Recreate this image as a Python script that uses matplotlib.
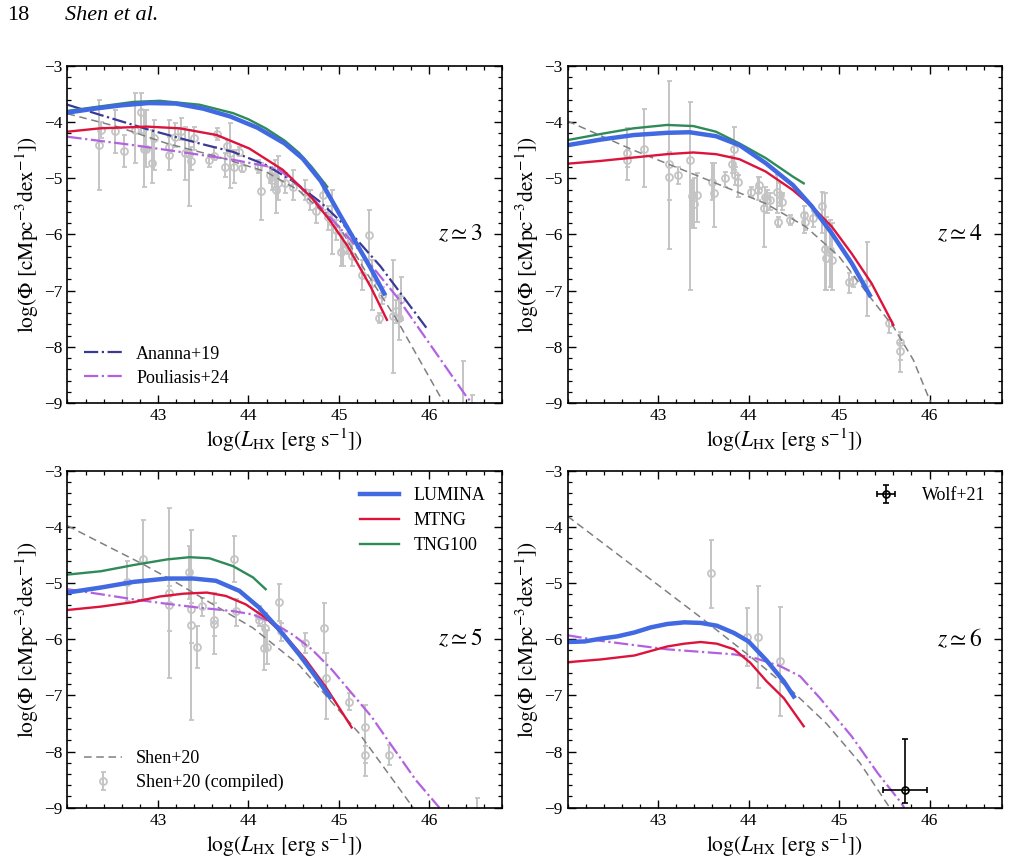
import numpy as np
import matplotlib
matplotlib.use("Agg")
import matplotlib.pyplot as plt
from matplotlib.ticker import MultipleLocator

plt.rcParams['font.family'] = ['Liberation Serif', 'DejaVu Serif']
plt.rcParams['mathtext.fontset'] = 'stix'

c_lum = '#4169e1'
c_mtng = '#dc143c'
c_tng = '#2e8b57'
c_ananna = '#3a3a96'
c_poul = '#b262e0'
c_shen = '#808080'
c_data = '#c4c4c4'

# ---------------- z ~ 3 ----------------
lum3_L = [42.0, 42.3, 42.6, 42.9, 43.2, 43.5, 43.8, 44.1, 44.4, 44.6, 44.8, 45.0, 45.2, 45.35, 45.5]
lum3_phi = [-3.83, -3.76, -3.70, -3.66, -3.67, -3.76, -3.90, -4.10, -4.38, -4.65, -5.05, -5.62, -6.18, -6.60, -7.05]
mtng3_L = [42.0, 42.36, 42.88, 43.24, 43.65, 44.01, 44.38, 44.7, 44.9, 45.1, 45.35, 45.53]
mtng3_phi = [-4.17, -4.11, -4.08, -4.11, -4.23, -4.47, -4.85, -5.35, -5.75, -6.22, -6.93, -7.52]
tng3_L = [42.0, 42.36, 42.73, 43.02, 43.46, 43.83, 44.0, 44.19, 44.4, 44.56, 44.7, 44.87]
tng3_phi = [-3.80, -3.72, -3.64, -3.62, -3.69, -3.84, -3.95, -4.11, -4.33, -4.55, -4.80, -5.15]
ana3_L = [42.0, 42.36, 42.91, 43.46, 43.83, 44.19, 44.5, 44.8, 45.02, 45.46, 45.97]
ana3_phi = [-3.69, -3.87, -4.14, -4.38, -4.53, -4.76, -5.06, -5.43, -5.77, -6.57, -7.67]
pou3_L = [42.0, 42.73, 43.46, 43.83, 44.19, 44.34, 44.5, 44.73, 45.13, 45.64, 46.41, 46.47]
pou3_phi = [-4.26, -4.41, -4.58, -4.67, -4.78, -4.85, -5.05, -5.39, -6.10, -7.11, -8.89, -9.0]
shen3_L = [42.0, 42.55, 43.1, 43.65, 44.19, 44.55, 45.0, 45.28, 45.64, 46.12, 46.16]
shen3_phi = [-3.85, -4.08, -4.38, -4.61, -4.88, -5.21, -5.85, -6.62, -7.52, -8.89, -9.0]

d3_L = [42.35, 42.37, 42.53, 42.63, 42.75, 42.81, 42.85, 42.87, 42.93, 42.96, 43.12, 43.12, 43.19, 43.25,
        43.30, 43.34, 43.37, 43.40, 43.56, 43.62, 43.65, 43.74, 43.76, 43.80, 43.84, 43.89, 43.93, 44.11,
        44.14, 44.24, 44.26, 44.29, 44.30, 44.33, 44.40, 44.49, 44.62, 44.68, 44.75, 44.82, 44.88, 44.92,
        44.97, 45.02, 45.04, 45.10, 45.14, 45.25, 45.33, 45.36, 45.44, 45.48, 45.60, 45.63, 45.66, 45.68,
        46.37, 46.47]
d3_phi = [-4.41, -4.14, -4.16, -4.51, -4.14, -3.82, -4.48, -4.48, -4.72, -4.29, -4.58, -4.45, -4.27, -4.15,
          -4.55, -4.57, -4.70, -4.29, -4.67, -4.60, -4.21, -4.79, -4.42, -4.55, -4.80, -4.53, -4.81, -4.79,
          -5.23, -4.94, -5.03, -4.97, -5.21, -5.09, -5.09, -5.15, -5.24, -5.39, -5.59, -5.30, -5.68, -5.77,
          -5.92, -6.31, -6.28, -6.19, -6.39, -6.72, -6.01, -6.87, -7.49, -7.08, -7.46, -7.37, -7.49, -7.14,
          -9.10, -9.05]
d3_top = [-3.61, -3.99, -3.78, -4.23, -3.49, -3.49, -3.78, -3.78, -4.14, -3.96, -4.27, -3.96, -4.02, -3.93,
          -4.08, -4.14, -4.44, -4.08, -4.58, -4.44, -4.11, -4.55, -4.32, -4.02, -4.50, -4.44, -4.73, -4.67,
          -4.73, -4.79, -4.85, -4.67, -4.94, -4.61, -4.91, -4.85, -5.03, -5.21, -5.39, -5.09, -5.50, -5.21,
          -5.74, -5.98, -6.01, -5.98, -6.13, -6.45, -5.56, -6.45, -7.40, -6.93, -6.45, -7.17, -7.08, -6.75,
          -8.26, -8.85]
d3_bot = [-5.21, -4.29, -4.55, -4.79, -4.73, -4.20, -5.15, -4.79, -5.09, -4.85, -4.85, -4.55, -4.44, -4.32,
          -5.03, -5.50, -4.85, -4.50, -4.79, -4.67, -4.32, -4.97, -4.55, -5.18, -5.09, -4.61, -4.88, -4.91,
          -5.74, -5.09, -5.21, -5.15, -5.62, -5.39, -5.27, -5.39, -5.39, -5.56, -5.80, -5.56, -5.92, -6.34,
          -6.10, -6.57, -6.57, -6.34, -6.57, -6.99, -6.45, -7.34, -7.58, -7.23, -8.47, -7.58, -7.88, -7.52,
          -9.30, -9.20]

# ---------------- z ~ 4 ----------------
lum4_L = [42.0, 42.37, 42.73, 43.10, 43.35, 43.64, 43.90, 44.19, 44.49, 44.70, 44.92, 45.14, 45.34]
lum4_phi = [-4.41, -4.31, -4.23, -4.19, -4.18, -4.25, -4.41, -4.73, -5.12, -5.50, -5.98, -6.51, -7.08]
mtng4_L = [42.0, 42.37, 42.73, 43.10, 43.39, 43.64, 43.90, 44.19, 44.49, 44.70, 44.92, 45.14, 45.36, 45.51, 45.6]
mtng4_phi = [-4.74, -4.69, -4.63, -4.57, -4.54, -4.57, -4.66, -4.88, -5.21, -5.50, -5.86, -6.34, -6.87, -7.33, -7.61]
tng4_L = [42.0, 42.37, 42.73, 43.10, 43.39, 43.64, 43.90, 44.19, 44.49, 44.61]
tng4_phi = [-4.32, -4.21, -4.11, -4.05, -4.07, -4.17, -4.38, -4.64, -4.97, -5.09]
shen4_L = [42.0, 42.73, 43.46, 44.19, 44.63, 45.0, 45.36, 45.6, 45.82, 46.01]
shen4_phi = [-3.98, -4.50, -4.97, -5.45, -5.86, -6.39, -7.15, -7.64, -8.23, -8.98]

d4_L = [42.66, 42.66, 42.85, 43.12, 43.12, 43.22, 43.35, 43.37, 43.40, 43.43, 43.60, 43.62, 43.74, 43.82,
        43.84, 43.85, 43.88, 44.03, 44.11, 44.12, 44.17, 44.18, 44.20, 44.24, 44.31, 44.33, 44.35, 44.37,
        44.46, 44.61, 44.62, 44.71, 44.81, 44.84, 44.86, 44.90, 44.92, 45.11, 45.15, 45.31, 45.55, 45.67,
        45.67]
d4_phi = [-4.55, -4.67, -4.47, -4.74, -4.97, -4.94, -4.67, -5.31, -5.45, -5.30, -5.06, -5.27, -5.00, -4.74,
          -4.47, -4.94, -5.06, -5.24, -5.21, -5.12, -5.53, -5.33, -5.39, -5.39, -5.24, -5.77, -5.30, -5.42,
          -5.74, -5.65, -5.77, -5.71, -5.50, -6.25, -6.42, -6.28, -6.45, -6.84, -6.82, -6.87, -7.58, -7.91,
          -8.07]
d4_top = [-4.11, -4.50, -3.77, -3.26, -4.53, -4.79, -3.64, -5.03, -5.00, -4.91, -4.73, -4.73, -4.88, -4.61,
          -4.08, -4.79, -4.94, -5.15, -4.97, -4.97, -5.33, -5.15, -5.21, -5.27, -4.94, -5.68, -5.09, -5.27,
          -5.65, -5.50, -5.62, -5.59, -5.24, -5.27, -5.68, -5.74, -5.80, -6.69, -6.75, -6.13, -7.52, -7.73,
          -7.94]
d4_bot = [-5.03, -4.80, -5.15, -6.25, -5.38, -5.10, -6.99, -5.89, -5.89, -5.77, -5.39, -5.86, -5.15, -4.91,
          -4.85, -5.12, -5.33, -5.33, -5.39, -5.27, -6.22, -5.50, -5.62, -5.56, -5.62, -5.86, -5.50, -5.56,
          -5.83, -5.98, -5.92, -5.86, -5.98, -6.99, -6.99, -6.93, -6.99, -7.05, -6.93, -7.46, -7.76, -8.44,
          -8.23]

# ---------------- z ~ 5 ----------------
lum5_L = [42.0, 42.37, 42.73, 43.10, 43.39, 43.64, 43.90, 44.12, 44.34, 44.56, 44.74, 44.90]
lum5_phi = [-5.17, -5.08, -4.98, -4.92, -4.92, -4.96, -5.14, -5.44, -5.83, -6.27, -6.66, -7.03]
mtng5_L = [42.0, 42.37, 42.73, 43.02, 43.28, 43.54, 43.75, 43.97, 44.19, 44.41, 44.63, 44.85, 45.03, 45.14]
mtng5_phi = [-5.48, -5.42, -5.34, -5.24, -5.19, -5.17, -5.23, -5.38, -5.62, -5.95, -6.36, -6.84, -7.29, -7.57]
tng5_L = [42.0, 42.37, 42.73, 43.10, 43.35, 43.57, 43.83, 44.05, 44.19]
tng5_phi = [-4.85, -4.79, -4.68, -4.58, -4.54, -4.56, -4.70, -4.90, -5.11]
pou5_L = [42.0, 42.37, 42.73, 43.10, 43.46, 43.83, 44.05, 44.27, 44.49, 44.70, 44.92, 45.14, 45.36, 45.51,
          45.85, 46.11]
pou5_phi = [-5.11, -5.20, -5.29, -5.37, -5.44, -5.50, -5.56, -5.71, -5.92, -6.18, -6.54, -6.96, -7.38, -7.73,
            -8.51, -9.0]
shen5_L = [42.0, 42.29, 42.84, 43.21, 43.64, 44.05, 44.56, 45.22, 45.82]
shen5_phi = [-3.98, -4.22, -4.67, -5.00, -5.41, -5.80, -6.46, -7.67, -9.0]

d5_L = [42.66, 42.84, 43.12, 43.12, 43.34, 43.37, 43.37, 43.43, 43.49, 43.62, 43.62, 43.84, 43.86, 44.12,
        44.12, 44.18, 44.17, 44.21, 44.34, 44.36, 44.62, 44.84, 44.86, 45.11, 45.29, 45.29, 45.55, 46.53]
d5_phi = [-4.98, -4.58, -5.17, -5.40, -4.80, -5.47, -5.74, -6.14, -5.41, -5.66, -5.73, -4.58, -5.50, -5.59,
          -5.65, -5.80, -6.15, -6.14, -5.33, -5.86, -6.07, -5.80, -6.69, -7.11, -7.57, -8.07, -8.07, -9.05]
d5_top = [-4.61, -3.88, -3.67, -5.05, -4.34, -4.05, -5.35, -5.77, -5.26, -5.17, -5.35, -4.17, -5.29, -5.41,
          -5.53, -5.53, -5.74, -5.83, -5.02, -5.71, -5.89, -5.35, -6.24, -6.96, -7.17, -7.91, -7.88, -8.83]
d5_bot = [-5.32, -5.29, -5.86, -6.69, -5.29, -7.43, -6.07, -6.51, -5.59, -6.27, -5.95, -4.99, -5.77, -5.77,
          -5.77, -6.18, -6.54, -6.45, -5.68, -6.04, -6.24, -6.24, -7.42, -7.26, -8.43, -8.21, -8.24, -9.3]

# ---------------- z ~ 6 ----------------
lum6_L = [42.0, 42.19, 42.37, 42.55, 42.74, 42.92, 43.10, 43.29, 43.47, 43.65, 43.84, 44.0, 44.20, 44.39, 44.50]
lum6_phi = [-6.05, -6.04, -5.99, -5.95, -5.88, -5.79, -5.73, -5.70, -5.71, -5.76, -5.89, -6.04, -6.38, -6.75, -7.02]
mtng6_L = [42.0, 42.37, 42.74, 42.92, 43.10, 43.29, 43.47, 43.65, 43.84, 44.02, 44.20, 44.39, 44.61]
mtng6_phi = [-6.41, -6.36, -6.29, -6.21, -6.13, -6.08, -6.05, -6.08, -6.18, -6.42, -6.75, -7.05, -7.55]
pou6_L = [42.0, 42.37, 43.10, 43.84, 44.06, 44.35, 44.57, 44.79, 45.14, 45.43, 45.69, 45.72]
pou6_phi = [-5.93, -6.03, -6.18, -6.27, -6.33, -6.48, -6.66, -7.05, -7.73, -8.39, -8.92, -9.0]
shen6_L = [42.0, 43.47, 44.13, 44.5, 44.86, 45.23, 45.56]
shen6_phi = [-3.81, -5.61, -6.45, -6.95, -7.50, -8.20, -9.0]

d6_L = [43.58, 43.98, 44.10, 44.35]
d6_phi = [-4.83, -5.96, -5.96, -6.39]
d6_top = [-4.23, -5.44, -5.06, -5.42]
d6_bot = [-5.44, -6.48, -6.86, -7.36]

wolf_L = [45.73]
wolf_phi = [-8.68]
wolf_Lerr = [0.24]
wolf_top = [-7.77]
wolf_bot = [-8.92]

fig = plt.figure(figsize=(10.1, 8.6), dpi=100)
w, h = 0.4301, 0.3919
ax_tl = fig.add_axes([0.0668, 0.5314, w, h])
ax_tr = fig.add_axes([0.5619, 0.5314, w, h])
ax_bl = fig.add_axes([0.0668, 0.0608, w, h])
ax_br = fig.add_axes([0.5619, 0.0608, w, h])

fig.text(0.007, 0.977, '18', fontsize=16)
fig.text(0.064, 0.977, 'Shen et al.', fontsize=16, style='italic')


def plot_data(ax, L, phi, top, bot):
    phi = np.array(phi)
    yerr = [phi - np.array(bot), np.array(top) - phi]
    return ax.errorbar(L, phi, yerr=yerr, fmt='o', ms=5, mfc='none', mec=c_data, mew=1.3,
                       ecolor=c_data, elinewidth=1.4, capsize=1.8, capthick=1.2, zorder=1)


def style(ax, zlab):
    ax.set_xlim(42.0, 46.8)
    ax.set_ylim(-9, -3)
    ax.set_xticks([43, 44, 45, 46])
    ax.set_yticks([-3, -4, -5, -6, -7, -8, -9])
    ax.xaxis.set_minor_locator(MultipleLocator(0.2))
    ax.yaxis.set_minor_locator(MultipleLocator(0.2))
    ax.tick_params(which='both', direction='in', top=True, right=True, labelsize=12.5)
    ax.tick_params(which='major', length=6, width=1.0)
    ax.tick_params(which='minor', length=3, width=0.9)
    for s in ax.spines.values():
        s.set_linewidth(1.2)
    ax.set_xlabel(r'$\log(L_{\rm HX}\ [\rm erg\ s^{-1}])$', fontsize=15.5, labelpad=2)
    ax.set_ylabel(r'$\log(\Phi\ [\rm cMpc^{-3}dex^{-1}])$', fontsize=15.5, labelpad=2)
    ax.text(0.955, 0.5, zlab, transform=ax.transAxes, ha='right', va='center', fontsize=17)


# z ~ 3
ax = ax_tl
plot_data(ax, d3_L, d3_phi, d3_top, d3_bot)
ax.plot(shen3_L, shen3_phi, '--', color=c_shen, lw=1.1, dashes=(5, 3))
l_ana, = ax.plot(ana3_L, ana3_phi, '-.', color=c_ananna, lw=1.6, label='Ananna+19')
l_pou, = ax.plot(pou3_L, pou3_phi, '-.', color=c_poul, lw=1.6, label='Pouliasis+24')
ax.plot(tng3_L, tng3_phi, color=c_tng, lw=1.7)
ax.plot(mtng3_L, mtng3_phi, color=c_mtng, lw=1.7)
ax.plot(lum3_L, lum3_phi, color=c_lum, lw=3.2)
ax.legend(handles=[l_ana, l_pou], loc='lower left', frameon=False, fontsize=13,
          handlelength=2.1, handletextpad=0.8, labelspacing=0.4)
style(ax, r'$z \simeq 3$')

# z ~ 4
ax = ax_tr
plot_data(ax, d4_L, d4_phi, d4_top, d4_bot)
ax.plot(shen4_L, shen4_phi, '--', color=c_shen, lw=1.1, dashes=(5, 3))
ax.plot(tng4_L, tng4_phi, color=c_tng, lw=1.7)
ax.plot(mtng4_L, mtng4_phi, color=c_mtng, lw=1.7)
ax.plot(lum4_L, lum4_phi, color=c_lum, lw=3.2)
style(ax, r'$z \simeq 4$')

# z ~ 5
ax = ax_bl
e_dat = plot_data(ax, d5_L, d5_phi, d5_top, d5_bot)
l_shen, = ax.plot(shen5_L, shen5_phi, '--', color=c_shen, lw=1.1, dashes=(5, 3))
ax.plot(pou5_L, pou5_phi, '-.', color=c_poul, lw=1.6)
l_tng, = ax.plot(tng5_L, tng5_phi, color=c_tng, lw=1.7)
l_mtng, = ax.plot(mtng5_L, mtng5_phi, color=c_mtng, lw=1.7)
l_lum, = ax.plot(lum5_L, lum5_phi, color=c_lum, lw=3.2)
leg1 = ax.legend([l_lum, l_mtng, l_tng], ['LUMINA', 'MTNG', 'TNG100'], loc='upper right',
                 frameon=False, fontsize=13, handlelength=2.2, handletextpad=0.8, labelspacing=0.45)
ax.add_artist(leg1)
ax.legend([l_shen, e_dat], ['Shen+20', 'Shen+20 (compiled)'], loc='lower left', frameon=False,
          fontsize=13, handlelength=2.1, handletextpad=0.8, labelspacing=0.4)
style(ax, r'$z \simeq 5$')

# z ~ 6
ax = ax_br
plot_data(ax, d6_L, d6_phi, d6_top, d6_bot)
ax.plot(shen6_L, shen6_phi, '--', color=c_shen, lw=1.1, dashes=(5, 3))
ax.plot(pou6_L, pou6_phi, '-.', color=c_poul, lw=1.6)
ax.plot(mtng6_L, mtng6_phi, color=c_mtng, lw=1.7)
ax.plot(lum6_L, lum6_phi, color=c_lum, lw=3.2)
wp = np.array(wolf_phi)
e_w = ax.errorbar(wolf_L, wolf_phi, xerr=wolf_Lerr,
                  yerr=[wp - np.array(wolf_bot), np.array(wolf_top) - wp],
                  fmt='o', ms=5, mfc='none', mec='black', mew=1.2, ecolor='black',
                  elinewidth=1.2, capsize=2.2, capthick=1.2, zorder=5, clip_on=False)
ax.legend([e_w], ['Wolf+21'], loc='upper right', frameon=False, fontsize=13,
          handlelength=1.6, handletextpad=1.2)
style(ax, r'$z \simeq 6$')

fig.savefig('out.png', dpi=100)
